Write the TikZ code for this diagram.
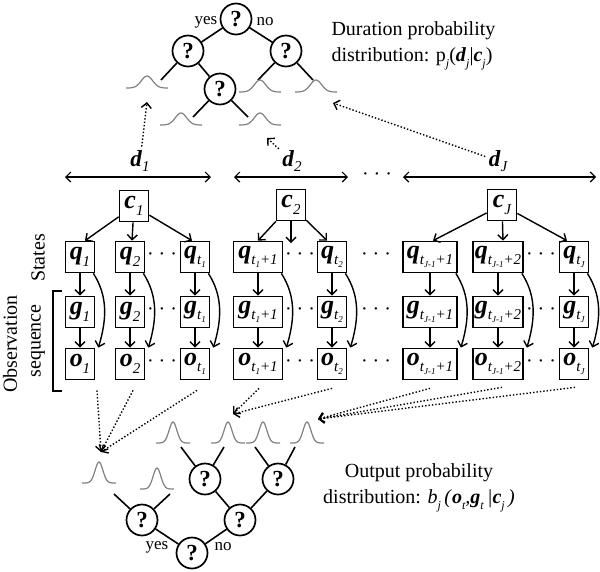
\documentclass[tikz,border=0pt]{standalone}
\usepackage{fontspec}
\setmainfont{Liberation Serif}
\usetikzlibrary{arrows.meta}

\newcommand\bv[2]{\textbf{\textit{#1}}\raisebox{-0.25em}{\fontsize{15}{15}\selectfont\itshape #2}}
\newcommand\tv[2]{\textbf{\textit{#1}}\raisebox{-0.3em}{\fontsize{12}{12}\selectfont\itshape #2}}
\newcommand\sm[1]{\raisebox{-0.2em}{\fontsize{9}{9}\selectfont #1}}
\newcommand\bell[5]{\draw[bellline] plot[domain=-#3:#3, samples=41] ({#1+\x}, {#2-#4*exp(-(\x*\x)/(#5*#5))});}

\tikzset{
  box/.style={draw, line width=1.7pt, minimum width=29pt, minimum height=31pt, inner sep=1pt, font=\fontsize{26}{26}\selectfont},
  quest/.style={circle, draw, line width=1.7pt, minimum size=31pt, inner sep=0pt, font=\fontsize{23}{23}\selectfont\bfseries},
  branch/.style={line width=1.6pt},
  bellline/.style={black!50, line width=1.2pt},
  arr/.style={-{Straight Barb[length=5pt,width=10pt]}, line width=1.4pt},
  darr/.style={{Straight Barb[length=5pt,width=10pt]}-{Straight Barb[length=5pt,width=10pt]}, line width=1.2pt},
  dotarr/.style={arr, dotted, line width=1.4pt},
  lab/.style={font=\fontsize{20}{26}\selectfont},
  yesno/.style={font=\fontsize{17}{17}\selectfont},
  gap/.style={font=\fontsize{20}{20}\selectfont, inner sep=0pt},
  dlab/.style={font=\fontsize{23}{23}\selectfont},
}

\begin{document}
\begin{tikzpicture}[x=1pt, y=-1pt]
\useasboundingbox (0,0) rectangle (600,571);

% Duration tree
\node[quest] (t0) at (236,19) {?};
\node[quest] (t1) at (188,51) {?};
\node[quest] (t2) at (286,51) {?};
\node[quest] (t3) at (220,89) {?};
\node[yesno] (tyes) at (206,22) {yes};
\node[yesno] (tno) at (265,22) {no};
\coordinate (tl1) at (161,80);
\coordinate (tl2) at (193,117);
\coordinate (tl3) at (248,117);
\coordinate (tl4) at (258,80);
\coordinate (tl5) at (313,80);
\draw[branch] (t0) -- (t1) (t0) -- (t2) (t1) -- (t3) (t1) -- (tl1)
  (t3) -- (tl2) (t3) -- (tl3) (t2) -- (tl4) (t2) -- (tl5);
\bell{147}{88}{21}{12}{8}
\bell{181}{125}{21}{12}{8}
\bell{260}{125}{21}{12}{8}
\bell{260}{92}{21}{12}{8}
\bell{316}{92}{21}{12}{8}

\node[lab, anchor=west, align=left] (dur) at (328,46)
  {Duration probability\\distribution: p\raisebox{-0.3em}{\fontsize{12}{12}\selectfont\itshape j}(\tv{d}{j}|\tv{c}{j})};

% Segments
\node[dlab] (d1) at (140,161) {\bv{d}{1}};
\node[dlab] (d2) at (292,161) {\bv{d}{2}};
\node[dlab] (dJ) at (498,161) {\bv{d}{J}};
\coordinate (d1a) at (65,177);  \coordinate (d1b) at (211,177);
\coordinate (d2a) at (234,177); \coordinate (d2b) at (348,177);
\coordinate (dJa) at (403,177); \coordinate (dJb) at (596,177);
\draw[darr] (d1a) -- (d1b);
\draw[darr] (d2a) -- (d2b);
\draw[darr] (dJa) -- (dJb);
\node[gap] (dd) at (377,177) {· · ·};

\node[box] (c1) at (134,206) {\bv{c}{1}};
\node[box] (c2) at (291,205) {\bv{c}{2}};
\node[box] (cJ) at (502,205) {\bv{c}{J}};

% States
\node[box] (q1) at (80,257) {\bv{q}{1}};
\node[box] (q2) at (130,257) {\bv{q}{2}};
\node[box] (qa) at (195,257) {\bv{q}{t\sm{1}}};
\node[box, minimum width=49pt] (qb) at (258,257) {\bv{q}{t\sm{1}+1}};
\node[box] (qc) at (332,257) {\bv{q}{t\sm{2}}};
\node[box, minimum width=54pt] (qd) at (430,257) {\bv{q}{t\sm{J-1}+1}};
\node[box, minimum width=50pt] (qe) at (498,257) {\bv{q}{t\sm{J-1}+2}};
\node[box] (qf) at (574,257) {\bv{q}{t\sm{J}}};

\node[box] (g1) at (80,312) {\bv{g}{1}};
\node[box] (g2) at (130,312) {\bv{g}{2}};
\node[box] (ga) at (195,312) {\bv{g}{t\sm{1}}};
\node[box, minimum width=49pt] (gb) at (258,312) {\bv{g}{t\sm{1}+1}};
\node[box] (gc) at (332,312) {\bv{g}{t\sm{2}}};
\node[box, minimum width=54pt] (gd) at (430,312) {\bv{g}{t\sm{J-1}+1}};
\node[box, minimum width=50pt] (ge) at (498,312) {\bv{g}{t\sm{J-1}+2}};
\node[box] (gf) at (574,312) {\bv{g}{t\sm{J}}};

\node[box] (o1) at (80,364) {\bv{o}{1}};
\node[box] (o2) at (130,364) {\bv{o}{2}};
\node[box] (oa) at (195,364) {\bv{o}{t\sm{1}}};
\node[box, minimum width=49pt] (ob) at (258,364) {\bv{o}{t\sm{1}+1}};
\node[box] (oc) at (332,364) {\bv{o}{t\sm{2}}};
\node[box, minimum width=54pt] (od) at (430,364) {\bv{o}{t\sm{J-1}+1}};
\node[box, minimum width=50pt] (oe) at (498,364) {\bv{o}{t\sm{J-1}+2}};
\node[box] (of) at (574,364) {\bv{o}{t\sm{J}}};

% dots between columns
\node[gap] (dq1) at (162,257) {· · ·};
\node[gap] (dq2) at (300,257) {· · ·};
\node[gap] (dq3) at (376,257) {· · ·};
\node[gap] (dq4) at (541,257) {· · ·};
\node[gap] (dg1) at (162,312) {· · ·};
\node[gap] (dg2) at (300,312) {· · ·};
\node[gap] (dg3) at (376,312) {· · ·};
\node[gap] (dg4) at (541,312) {· · ·};
\node[gap] (do1) at (162,364) {· · ·};
\node[gap] (do2) at (300,364) {· · ·};
\node[gap] (do3) at (376,364) {· · ·};
\node[gap] (do4) at (541,364) {· · ·};

\coordinate (c2m) at (291,243);
\draw[arr] (c1) -- ([xshift=5pt]q1.north);
\draw[arr] (c1) -- ([xshift=2pt]q2.north);
\draw[arr] (c1) -- ([xshift=-3pt]qa.north);
\draw[arr] (c2) -- (qb.north);
\draw[arr] (c2) -- (c2m);
\draw[arr] (c2) -- ([xshift=-5pt]qc.north);
\draw[arr] (cJ) -- ([xshift=3pt]qd.north);
\draw[arr] (cJ) -- ([xshift=5pt]qe.north);
\draw[arr] (cJ) -- ([xshift=-7pt]qf.north);

\draw[arr] (q1) -- (g1); \draw[arr] (g1) -- (o1);
\draw[arr] (q2) -- (g2); \draw[arr] (g2) -- (o2);
\draw[arr] (qa) -- (ga); \draw[arr] (ga) -- (oa);
\draw[arr] (qb) -- (gb); \draw[arr] (gb) -- (ob);
\draw[arr] (qc) -- (gc); \draw[arr] (gc) -- (oc);
\draw[arr] (qd) -- (gd); \draw[arr] (gd) -- (od);
\draw[arr] (qe) -- (ge); \draw[arr] (ge) -- (oe);
\draw[arr] (qf) -- (gf); \draw[arr] (gf) -- (of);

\draw[arr] ([xshift=-2pt]q1.south east) .. controls +(14,22) and +(9,-30) .. ([xshift=3pt]o1.north east);
\draw[arr] ([xshift=-2pt]q2.south east) .. controls +(14,22) and +(9,-30) .. ([xshift=3pt]o2.north east);
\draw[arr] ([xshift=-2pt]qa.south east) .. controls +(14,22) and +(9,-30) .. ([xshift=3pt]oa.north east);
\draw[arr] ([xshift=-2pt]qb.south east) .. controls +(14,22) and +(9,-30) .. ([xshift=3pt]ob.north east);
\draw[arr] ([xshift=-2pt]qc.south east) .. controls +(14,22) and +(9,-30) .. ([xshift=3pt]oc.north east);
\draw[arr] ([xshift=-2pt]qd.south east) .. controls +(14,22) and +(9,-30) .. ([xshift=3pt]od.north east);
\draw[arr] ([xshift=-2pt]qe.south east) .. controls +(14,22) and +(9,-30) .. ([xshift=3pt]oe.north east);
\draw[arr] ([xshift=-2pt]qf.south east) .. controls +(14,22) and +(9,-30) .. ([xshift=3pt]of.north east);

% side labels
\node[lab, rotate=90] (states) at (38,258) {States};
\node[lab, rotate=90] (obs) at (10,344) {Observation};
\node[lab, rotate=90] (seq) at (38,341) {sequence};
\coordinate (br1) at (62,291); \coordinate (br2) at (53,291);
\coordinate (br3) at (53,391); \coordinate (br4) at (62,391);
\draw[line width=1.2pt] (br1) -- (br2) -- (br3) -- (br4);

% duration arrows
\coordinate (pd1) at (147,102);
\coordinate (pd2) at (267,138);
\coordinate (pdJ) at (333,103);
\draw[dotarr] (d1) -- (pd1);
\draw[dotarr] (d2) -- (pd2);
\draw[dotarr] (dJ) -- (pdJ);

% output arrows
\coordinate (pa) at (101,452);
\coordinate (pb) at (233,414);
\coordinate (pc) at (318,419);
\draw[dotarr] ([shift={(17,10)}]o1.south) -- (pa);
\draw[dotarr] ([shift={(3,10)}]o2.south) -- (pa);
\draw[dotarr] ([shift={(2,10)}]oa.south) -- (pa);
\draw[dotarr] ([shift={(1,8)}]ob.south) -- (pb);
\draw[dotarr] ([shift={(0,8)}]oc.south) -- (pb);
\draw[dotarr] ([shift={(0,8)}]od.south) -- (pc);
\draw[dotarr] ([shift={(4,7)}]oe.south) -- (pc);
\draw[dotarr] ([shift={(1,7)}]of.south) -- (pc);

% Output tree
\node[quest] (b0) at (192,553) {?};
\node[quest] (b1) at (142,520) {?};
\node[quest] (b2) at (240,520) {?};
\node[quest] (b3) at (205,479) {?};
\node[quest] (b4) at (278,479) {?};
\node[yesno] (byes) at (157,547) {yes};
\node[yesno] (bno) at (223,547) {no};
\coordinate (bl1) at (114,494);
\coordinate (bl2) at (170,494);
\coordinate (bl3) at (181,447);
\coordinate (bl4) at (224,447);
\coordinate (bl5) at (255,447);
\coordinate (bl6) at (295,447);
\draw[branch] (b0) -- (b1) (b0) -- (b2) (b2) -- (b3) (b2) -- (b4)
  (b1) -- (bl1) (b1) -- (bl2) (b3) -- (bl3) (b3) -- (bl4) (b4) -- (bl5) (b4) -- (bl6);
\bell{99}{483}{17}{21}{5.5}
\bell{157}{489}{17}{21}{5.5}
\bell{173}{443}{17}{21}{5.5}
\bell{228}{443}{17}{21}{5.5}
\bell{263}{443}{17}{21}{5.5}
\bell{307}{443}{17}{21}{5.5}

\node[lab, align=center] (outp) at (419,488)
  {Output probability\\distribution: \textit{b}\raisebox{-0.3em}{\fontsize{12}{12}\selectfont\itshape j}\,\textit{(}\tv{o}{t}\textit{,}\tv{g}{t}\,\textit{|}\tv{c}{j}\,\textit{)}};
\end{tikzpicture}
\end{document}
